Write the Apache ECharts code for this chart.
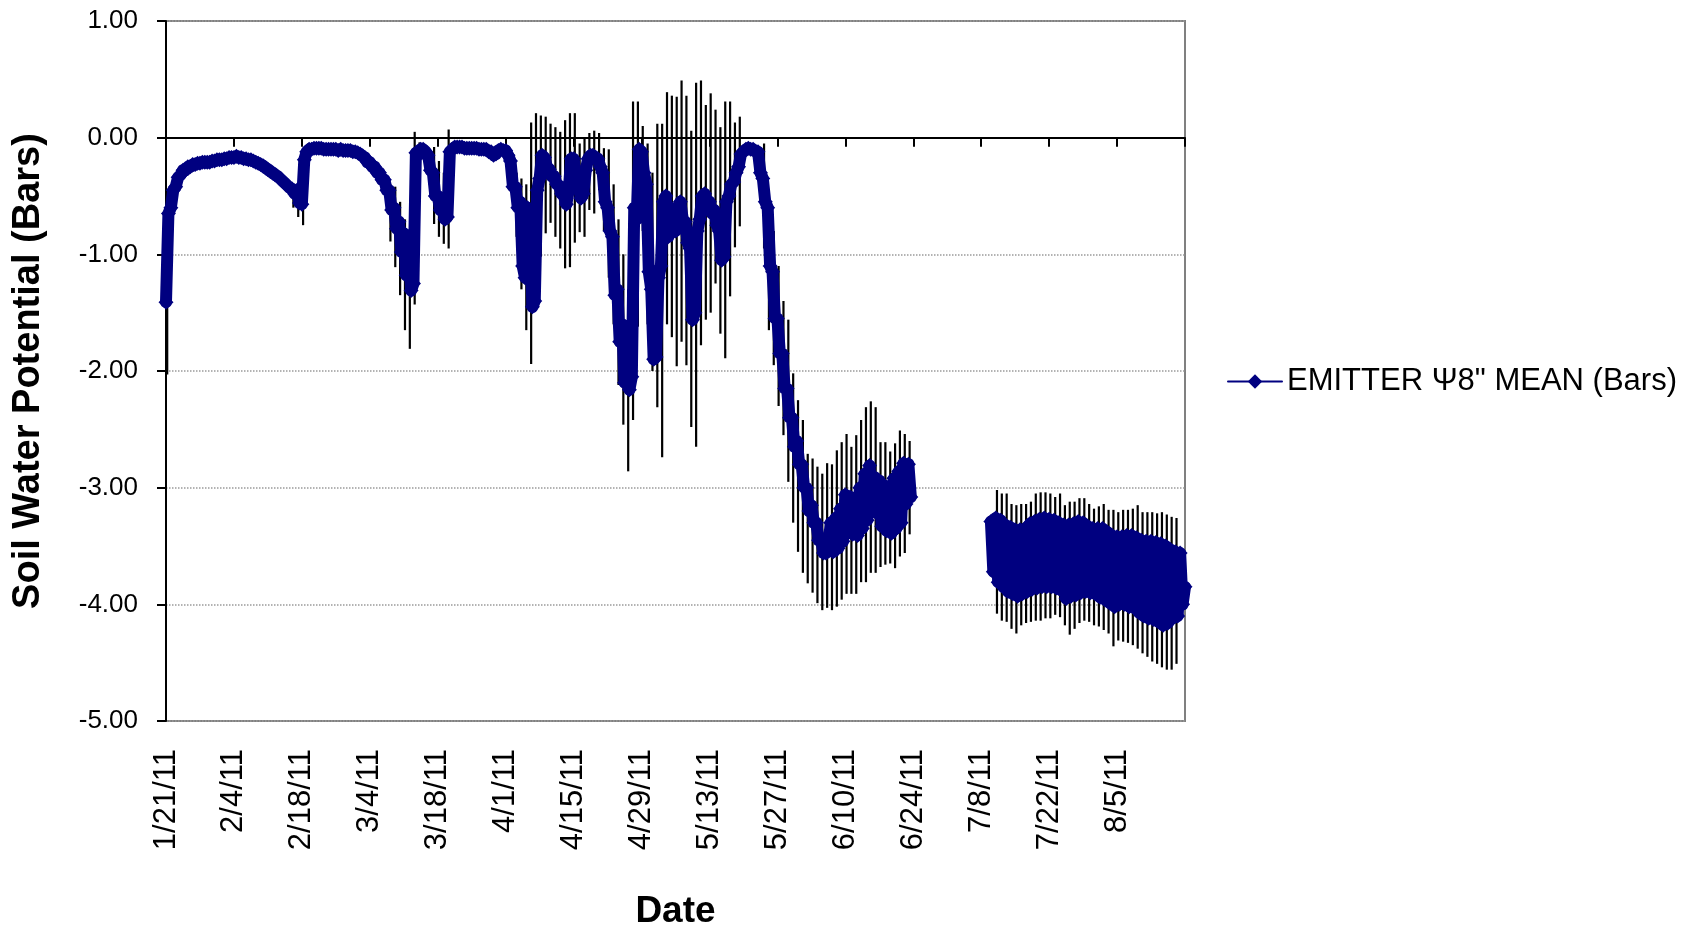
<!DOCTYPE html>
<html>
<head>
<meta charset="utf-8">
<title>Soil Water Potential</title>
<script src="https://cdn.jsdelivr.net/npm/echarts@6/dist/echarts.min.js"></script>
<style>
  html, body { margin: 0; padding: 0; background: #ffffff; }
  #chart { width: 1702px; height: 929px; }
</style>
</head>
<body>
<div id="chart"></div>
<script>
// Emitter tensiometer at 8", season 2011. Day 0 = 1/21/11.
// Two mean readings per day (start of day / midday), in bars; null = no data.
const seriesName = 'EMITTER \u03A88" MEAN (Bars)';

// x-axis tick labels, one every 14 days from day 0 to day 210
const tickLabels = ['1/21/11', '2/4/11', '2/18/11', '3/4/11', '3/18/11', '4/1/11', '4/15/11',
  '4/29/11', '5/13/11', '5/27/11', '6/10/11', '6/24/11', '7/8/11', '7/22/11', '8/5/11', ''];

const psiAM = [
  -1.41, -0.60, -0.42, -0.32, -0.28, -0.25, -0.23,   // 1/21
  -0.22, -0.21, -0.21, -0.20, -0.19, -0.18, -0.17,   // 1/28
  -0.17, -0.17, -0.18, -0.19, -0.20, -0.22, -0.24,   // 2/4
  -0.27, -0.30, -0.33, -0.37, -0.41, -0.44, -0.45,   // 2/11
  -0.57, -0.12, -0.10, -0.09, -0.09, -0.10, -0.10,   // 2/18
  -0.10, -0.10, -0.11, -0.11, -0.12, -0.14, -0.17,   // 2/25
  -0.21, -0.25, -0.30, -0.36, -0.45, -0.60, -0.72,   // 3/4
  -0.82, -0.90, -1.25, -0.15, -0.10, -0.15, -0.30,   // 3/11
  -0.50, -0.60, -0.68, -0.10, -0.08, -0.08, -0.09,   // 3/18
  -0.09, -0.09, -0.10, -0.10, -0.12, -0.14, -0.10,   // 3/25
  -0.11, -0.20, -0.42, -0.55, -1.20, -0.75, -1.40,   // 4/1
  -0.35, -0.17, -0.27, -0.33, -0.41, -0.50, -0.45,   // 4/8
  -0.18, -0.40, -0.48, -0.18, -0.15, -0.18, -0.30,   // 4/15
  -0.60, -0.85, -1.30, -1.60, -1.80, -2.05, -0.70,   // 4/22
  -0.12, -0.40, -1.30, -1.88, -1.10, -0.50, -0.60,   // 4/29
  -0.80, -0.55, -0.72, -0.95, -1.50, -0.70, -0.48,   // 5/6
  -0.55, -0.62, -0.80, -1.02, -0.50, -0.38, -0.25,   // 5/13
  -0.12, -0.09, -0.10, -0.12, -0.35, -0.60, -1.15,   // 5/20
  -1.55, -1.85, -2.15, -2.40, -2.60, -2.80, -3.00,   // 5/27
  -3.15, -3.30, -3.45, -3.56, -3.30, -3.26, -3.18,   // 6/3
  -3.06, -3.08, -3.09, -3.00, -2.88, -2.81, -2.91,   // 6/10
  -2.94, -2.98, -3.02, -2.92, -2.86, -2.79, -2.80,   // 6/17
  null, null, null, null, null, null, null,          // 6/24
  null, null, null, null, null, null, null,          // 7/1
  null, null, -3.29, -3.26, -3.28, -3.32, -3.34,     // 7/8
  -3.36, -3.36, -3.35, -3.31, -3.29, -3.27, -3.26,   // 7/15
  -3.27, -3.28, -3.30, -3.32, -3.32, -3.31, -3.29,   // 7/22
  -3.30, -3.33, -3.35, -3.35, -3.35, -3.38, -3.41,   // 7/29
  -3.42, -3.42, -3.41, -3.41, -3.43, -3.45, -3.46,   // 8/5
  -3.46, -3.47, -3.48, -3.50, -3.53, -3.55, -3.56,   // 8/12
  -3.85                                              // 8/19
];

const psiPM = [
  -0.65, -0.45, -0.34, -0.28, -0.25, -0.23, -0.22,
  -0.21, -0.21, -0.20, -0.19, -0.19, -0.18, -0.17,
  -0.16, -0.17, -0.18, -0.19, -0.21, -0.23, -0.26,
  -0.29, -0.32, -0.35, -0.39, -0.43, -0.48, -0.56,
  -0.19, -0.10, -0.09, -0.09, -0.10, -0.10, -0.10,
  -0.11, -0.11, -0.11, -0.12, -0.13, -0.16, -0.21,
  -0.25, -0.30, -0.36, -0.45, -0.62, -0.78, -0.98,
  -1.18, -1.31, -0.13, -0.10, -0.12, -0.28, -0.50,
  -0.62, -0.70, -0.12, -0.08, -0.08, -0.09, -0.09,
  -0.09, -0.10, -0.10, -0.12, -0.15, -0.11, -0.11,
  -0.15, -0.42, -0.60, -1.10, -0.60, -1.45, -0.45,
  -0.15, -0.25, -0.33, -0.40, -0.48, -0.57, -0.18,
  -0.35, -0.52, -0.28, -0.15, -0.18, -0.25, -0.55,
  -0.80, -1.35, -1.75, -2.10, -2.16, -0.60, -0.10,
  -0.30, -1.15, -1.90, -1.20, -0.55, -0.85, -0.80,
  -0.62, -0.70, -0.90, -1.56, -0.80, -0.50, -0.55,
  -0.65, -0.75, -1.05, -0.55, -0.40, -0.30, -0.14,
  -0.10, -0.10, -0.12, -0.30, -0.55, -1.10, -1.55,
  -1.85, -2.15, -2.40, -2.65, -2.80, -3.00, -3.20,
  -3.30, -3.45, -3.56, -3.50, -3.55, -3.52, -3.46,
  -3.38, -3.40, -3.41, -3.35, -3.28, -3.19, -3.22,
  -3.33, -3.37, -3.39, -3.35, -3.30, -3.14, -3.08,
  null, null, null, null, null, null, null,
  null, null, null, null, null, null, null,
  null, null, -3.72, -3.81, -3.85, -3.89, -3.91,
  -3.93, -3.91, -3.89, -3.87, -3.86, -3.85, -3.85,
  -3.85, -3.86, -3.88, -3.95, -3.93, -3.92, -3.90,
  -3.89, -3.90, -3.91, -3.94, -3.96, -3.99, -4.02,
  -4.00, -4.00, -4.02, -4.03, -4.07, -4.10, -4.12,
  -4.13, -4.15, -4.18, -4.16, -4.12, -4.10, -4.00,
  null
];

// Daily error bar ends (mean ± SD across sensors), in bars
const errTop = [
  -0.90, null, null, null, null, null, null,
  null, null, null, null, null, null, null,
  null, null, null, null, null, null, null,
  null, null, null, null, null, -0.40, -0.45,
  -0.20, -0.05, null, null, null, null, null,
  null, null, null, null, null, null, null,
  null, null, null, null, -0.40, -0.42, -0.55,
  -0.70, -0.85, 0.05, -0.04, null, -0.10, -0.08,
  -0.20, -0.30, 0.07, null, null, null, null,
  null, null, null, null, null, null, null,
  null, null, -0.30, -0.35, -0.40, 0.13, 0.21,
  0.19, 0.18, 0.12, 0.09, 0.05, 0.15, 0.21,
  0.21, -0.05, 0.00, 0.04, 0.06, 0.04, -0.09,
  -0.10, -0.40, -0.70, -1.00, -1.30, 0.31, 0.31,
  0.10, -0.05, -0.30, 0.12, 0.12, 0.39, 0.36,
  0.35, 0.49, 0.36, 0.06, 0.47, 0.49, 0.28,
  0.38, 0.24, 0.09, 0.31, 0.31, 0.13, 0.18,
  null, null, null, -0.10, -0.05, -0.45, -0.80,
  -1.10, -1.40, -1.56, -2.02, -2.25, -2.42, -2.71,
  -2.75, -2.82, -2.88, -2.79, -2.80, -2.68, -2.61,
  -2.54, -2.65, -2.55, -2.42, -2.31, -2.26, -2.31,
  -2.61, -2.61, -2.69, -2.62, -2.51, -2.54, -2.60,
  null, null, null, null, null, null, null,
  null, null, null, null, null, null, null,
  null, null, null, -3.02, -3.05, -3.05, -3.14,
  -3.15, -3.14, -3.14, -3.12, -3.05, -3.04, -3.04,
  -3.05, -3.08, -3.05, -3.15, -3.12, -3.12, -3.09,
  -3.09, -3.14, -3.18, -3.16, -3.14, -3.19, -3.19,
  -3.21, -3.19, -3.19, -3.18, -3.15, -3.21, -3.21,
  -3.21, -3.22, -3.21, -3.23, -3.25, -3.26, null,
  null
];

const errBot = [
  -2.03, null, null, null, null, null, null,
  null, null, null, null, null, null, null,
  null, null, null, null, null, null, null,
  null, null, null, null, null, -0.60, -0.68,
  -0.75, -0.31, null, null, null, null, null,
  null, null, null, null, null, null, null,
  null, null, null, null, -0.89, -1.11, -1.35,
  -1.65, -1.81, -1.43, -0.30, null, -0.40, -0.74,
  -0.85, -0.91, -0.95, null, null, null, null,
  null, null, null, null, null, null, null,
  null, null, -0.85, -1.30, -1.65, -1.94, -1.18,
  -1.02, -0.82, -0.73, -0.85, -0.95, -1.12, -1.11,
  -0.90, -0.81, -0.85, -0.62, -0.65, -0.45, -0.80,
  -1.20, -1.60, -2.12, -2.46, -2.86, -2.42, -1.62,
  -0.80, -1.60, -2.00, -2.31, -2.74, -1.60, -1.71,
  -1.96, -1.75, -1.95, -2.48, -2.65, -1.78, -1.56,
  -1.50, -1.25, -1.68, -1.89, -1.36, -0.94, -0.76,
  null, null, null, -0.45, -0.95, -1.65, -1.95,
  -2.30, -2.55, -2.95, -3.30, -3.55, -3.73, -3.82,
  -3.90, -3.99, -4.05, -4.03, -4.05, -4.02, -3.96,
  -3.91, -3.91, -3.91, -3.81, -3.81, -3.73, -3.73,
  -3.68, -3.66, -3.65, -3.69, -3.59, -3.56, -3.40,
  null, null, null, null, null, null, null,
  null, null, null, null, null, null, null,
  null, null, null, -4.08, -4.14, -4.15, -4.21,
  -4.25, -4.18, -4.16, -4.15, -4.14, -4.14, -4.12,
  -4.12, -4.09, -4.11, -4.18, -4.26, -4.21, -4.16,
  -4.14, -4.15, -4.18, -4.19, -4.22, -4.25, -4.36,
  -4.31, -4.32, -4.33, -4.35, -4.38, -4.42, -4.45,
  -4.49, -4.51, -4.54, -4.56, -4.56, -4.51, null,
  null
];

// ---- build series data (x = day index, readings at 0h and 12h) ----
const lineData = [];
for (let d = 0; d < psiAM.length; d++) {
  const a = psiAM[d], p = psiPM[d];
  if (a == null && p == null) { lineData.push([d, '-']); continue; }
  if (a != null) lineData.push([d, a]);
  if (p != null) lineData.push([d + 0.5, p]);
}
const errData = [];
for (let d = 0; d < errTop.length; d++) {
  if (errTop[d] != null && errBot[d] != null) errData.push([d + 0.25, errTop[d], errBot[d]]);
}

const FONT = "'Liberation Sans', Arial, Helvetica, sans-serif";
const NAVY = '#000080';

const chart = echarts.init(document.getElementById('chart'), null, { renderer: 'canvas' });
chart.setOption({
  animation: false,
  backgroundColor: '#ffffff',
  grid: {
    left: 166, right: 517, top: 21, bottom: 208,
    outerBoundsMode: 'none', containLabel: false,
    show: true, borderColor: '#808080', borderWidth: 2, backgroundColor: '#ffffff'
  },
  legend: {
    data: [seriesName],
    orient: 'vertical',
    left: 1222, top: 361,
    itemWidth: 54, itemHeight: 18,
    lineStyle: { width: 2, color: NAVY },
    textStyle: { fontSize: 31, color: '#000', fontFamily: FONT }
  },
  xAxis: [
    {
      // axis line drawn through 0.00 with date ticks
      type: 'value', min: 0, max: 210, interval: 14,
      position: 'bottom',
      axisLine: { show: true, onZero: true, lineStyle: { color: '#000', width: 2 } },
      axisTick: { show: true, length: 9, lineStyle: { color: '#000', width: 2 } },
      axisLabel: { show: false },
      splitLine: { show: false }
    },
    {
      // date labels along the bottom of the plot
      type: 'value', min: 0, max: 210, interval: 14,
      position: 'bottom',
      axisLine: { show: false, onZero: false },
      axisTick: { show: false },
      splitLine: { show: false },
      axisLabel: {
        rotate: 90, margin: 28, fontSize: 31, color: '#000', fontFamily: FONT,
        showMinLabel: true, showMaxLabel: true,
        formatter: v => tickLabels[Math.round(v / 14)] || ''
      },
      name: 'Date', nameLocation: 'middle', nameGap: 172,
      nameTextStyle: { fontSize: 37, fontWeight: 'bold', color: '#000', fontFamily: FONT }
    }
  ],
  yAxis: {
    type: 'value', min: -5, max: 1, interval: 1,
    axisLine: { show: true, onZero: false, lineStyle: { color: '#000', width: 2 } },
    axisTick: { show: true, length: 9, lineStyle: { color: '#000', width: 2 } },
    axisLabel: {
      margin: 28, fontSize: 26, color: '#000', fontFamily: FONT,
      formatter: v => v.toFixed(2)
    },
    splitLine: { show: true, lineStyle: { color: '#9a9a9a', type: 'dotted', width: 1.5 } },
    name: 'Soil Water Potential (Bars)', nameLocation: 'middle', nameGap: 118,
    nameTextStyle: { fontSize: 38, fontWeight: 'bold', color: '#000', fontFamily: FONT }
  },
  series: [
    {
      name: 'errorBars',
      type: 'custom',
      xAxisIndex: 0,
      z: 1,
      silent: true,
      data: errData,
      encode: { x: 0, y: [1, 2] },
      renderItem: (params, api) => {
        const x = api.value(0);
        const p1 = api.coord([x, api.value(1)]);
        const p2 = api.coord([x, api.value(2)]);
        return {
          type: 'line',
          shape: { x1: p1[0], y1: p1[1], x2: p2[0], y2: p2[1] },
          style: { stroke: '#000', lineWidth: 2.2 }
        };
      }
    },
    {
      name: seriesName,
      type: 'line',
      xAxisIndex: 0,
      z: 3,
      clip: false,
      data: lineData,
      connectNulls: false,
      symbol: 'diamond',
      symbolSize: 15,
      showAllSymbol: true,
      itemStyle: { color: NAVY },
      lineStyle: { color: NAVY, width: 12, join: 'round', cap: 'round' }
    }
  ]
});
</script>
</body>
</html>
